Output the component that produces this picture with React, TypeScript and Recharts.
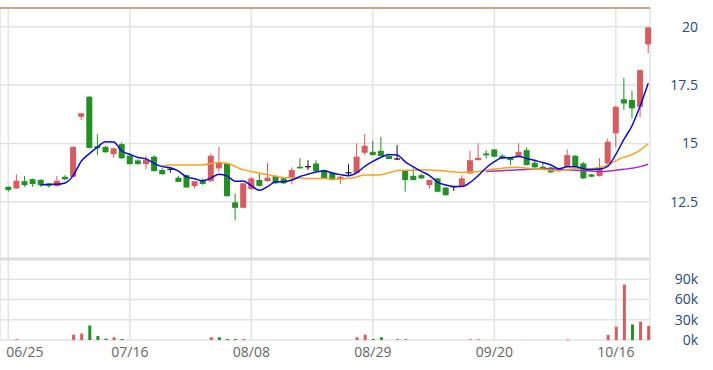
import { ComposedChart, Bar, Line, XAxis, YAxis, CartesianGrid, ReferenceLine, Cell } from 'recharts';

// daily prices (80 sessions)
const opens = [
  13.14, 13.07, 13.38, 13.47, 13.44, 13.27, 13.17, 13.57, 13.57, 16.14,
  17.0, 14.88, 14.85, 14.54, 14.97, 14.47, 14.27, 14.11, 14.43, 13.86,
  13.89, 13.53, 13.64, 13.17, 13.4, 13.38, 13.93, 14.14, 12.47, 12.24,
  13.05, 13.43, 13.38, 13.61, 13.5, 13.54, 14.0, 14.0, 14.14, 13.86,
  13.74, 13.47, 13.74, 13.74, 14.6, 14.64, 14.68, 14.47, 14.33, 13.83,
  13.61, 13.64, 13.21, 13.5, 13.11, 13.14, 13.17, 13.71, 14.28, 14.57,
  14.74, 14.47, 14.38, 14.46, 14.71, 14.17, 14.0, 13.97, 13.89, 14.0,
  14.47, 14.14, 13.67, 13.6, 14.14, 15.43, 16.89, 16.86, 16.57, 19.24,
];
const highs = [
  13.16, 13.67, 13.6, 13.5, 13.46, 13.28, 13.61, 13.64, 14.87, 16.3,
  17.02, 15.39, 14.9, 14.82, 15.04, 14.57, 14.32, 14.47, 14.5, 13.95,
  13.97, 13.61, 13.66, 13.4, 13.5, 14.57, 14.85, 14.16, 12.86, 13.3,
  13.55, 13.71, 14.17, 13.63, 13.52, 13.97, 14.36, 14.28, 14.28, 13.88,
  13.76, 13.6, 14.11, 15.0, 15.4, 15.11, 15.28, 14.5, 14.93, 13.86,
  13.93, 13.7, 13.45, 13.52, 13.12, 13.16, 13.64, 14.68, 15.0, 14.71,
  14.76, 14.55, 14.42, 15.0, 14.83, 14.31, 14.19, 14.0, 13.92, 14.74,
  14.5, 14.2, 13.7, 14.36, 15.21, 16.6, 17.81, 17.25, 18.16, 19.98,
];
const lows = [
  12.93, 13.05, 13.14, 13.14, 13.14, 13.11, 13.15, 13.44, 13.55, 16.0,
  14.78, 14.5, 14.6, 14.4, 14.34, 14.1, 14.1, 13.9, 13.8, 13.66,
  13.74, 13.35, 13.1, 13.07, 13.22, 13.36, 13.78, 12.72, 11.71, 12.22,
  13.0, 13.15, 13.36, 13.27, 13.25, 13.24, 13.92, 13.86, 13.8, 13.48,
  13.41, 13.26, 13.64, 13.72, 14.5, 14.48, 14.45, 14.32, 14.28, 12.93,
  13.4, 13.48, 13.07, 12.9, 12.76, 12.96, 13.15, 13.7, 14.27, 14.36,
  14.42, 14.34, 14.07, 14.44, 14.05, 13.96, 13.9, 13.74, 13.8, 13.98,
  13.98, 13.48, 13.55, 13.58, 14.1, 14.85, 16.43, 16.07, 16.11, 18.86,
];
const closes = [
  13.0, 13.4, 13.21, 13.26, 13.21, 13.17, 13.4, 13.46, 14.85, 16.29,
  14.81, 14.79, 14.62, 14.79, 14.36, 14.11, 14.11, 14.31, 13.81, 13.68,
  13.89, 13.35, 13.11, 13.38, 13.26, 14.47, 14.19, 12.74, 12.24, 13.29,
  13.5, 13.18, 13.53, 13.29, 13.29, 13.86, 13.93, 14.0, 13.81, 13.5,
  13.43, 13.57, 13.74, 14.43, 14.9, 14.5, 14.46, 14.33, 14.33, 13.43,
  13.43, 13.5, 13.43, 12.93, 12.78, 13.14, 13.5, 14.28, 14.38, 14.49,
  14.43, 14.36, 14.28, 14.64, 14.07, 13.97, 13.93, 13.76, 13.83, 14.5,
  14.0, 13.5, 13.57, 13.93, 15.07, 16.57, 16.71, 16.5, 18.14, 19.97,
];
const volumes = [
  0, 1000, 0, 0, 0, 0, 0, 0, 7800, 9500,
  21500, 6000, 2000, 4000, 1500, 0, 0, 0, 0, 0,
  0, 0, 0, 0, 0, 4000, 4000, 1500, 1500, 1500,
  0, 0, 0, 0, 0, 0, 0, 0, 0, 0,
  0, 0, 0, 4000, 7800, 1500, 4000, 0, 1000, 1000,
  0, 0, 0, 0, 0, 0, 0, 1000, 1000, 0,
  0, 0, 0, 0, 0, 0, 0, 0, 0, 1000,
  0, 0, 0, 0, 7400, 19700, 82000, 23000, 27000, 21000,
];

const dateTicks = [0, 15, 30, 45, 60, 75];
const dateLabels = ['06/25', '07/16', '08/08', '08/29', '09/20', '10/16'];
const priceTicks = [12.5, 15, 17.5, 20];
const volumeTicks = [0, 30000, 60000, 90000];
const priceTop = 20.8;

const RED = '#d65c5f';
const GREEN = '#248f24';
const FONT = '"Open Sans", sans-serif';

function movingAverage(n: number) {
  return closes.map((_, i) => {
    if (i < n - 1) return null;
    const win = closes.slice(i - n + 1, i + 1);
    return win.reduce((a, b) => a + b, 0) / n;
  });
}

const ma5 = movingAverage(5);
const ma20 = movingAverage(20);
const ma60 = movingAverage(60);

const data = closes.map((close, i) => ({
  i,
  open: opens[i],
  high: highs[i],
  low: lows[i],
  close,
  volume: volumes[i],
  up: i === 0 ? close >= opens[0] : close > closes[i - 1],
  ma5: ma5[i],
  ma20: ma20[i],
  ma60: ma60[i],
}));

function Candle(props: any) {
  const { x, y, width, height, payload } = props;
  const { open, close, high, low } = payload;
  const cx = x + width / 2;
  const k = high > low ? height / (high - low) : 0;
  const yOf = (p: number) => y + (high - p) * k;
  const color = close > open ? RED : close < open ? GREEN : '#111';
  const top = yOf(Math.max(open, close));
  const bottom = yOf(Math.min(open, close));
  return (
    <g>
      <line x1={cx} x2={cx} y1={y} y2={y + height} stroke={color} strokeWidth={1} />
      {close === open ? (
        <line x1={x} x2={x + width} y1={top} y2={top} stroke={color} strokeWidth={1.2} />
      ) : (
        <rect x={x} y={top} width={width} height={Math.max(bottom - top, 1)} fill={color} />
      )}
    </g>
  );
}

function DateTick(props: any) {
  const { x, y, payload } = props;
  const idx = dateTicks.indexOf(payload.value);
  const first = idx === 0;
  return (
    <text
      x={first ? x - 2 : x}
      y={y}
      dy={9}
      textAnchor={first ? 'start' : 'middle'}
      fill="#666"
      fontSize={14}
      fontFamily={FONT}
    >
      {dateLabels[idx]}
    </text>
  );
}

const axisTick = { textAnchor: 'end', dx: 40, fill: '#2c4a7c', fontSize: 14, fontFamily: FONT };
const xDomain = [-1.03, 79.22];

export default function App() {
  return (
    <div style={{ position: 'absolute', left: 0, top: 0, width: 713, height: 370, background: '#fff' }}>
      <ComposedChart width={713} height={258} data={data} margin={{ top: 8, right: 0, bottom: 0, left: 0 }}>
        <CartesianGrid stroke="#e3e3e3" strokeWidth={1.5} />
        <XAxis dataKey="i" type="number" domain={xDomain} ticks={dateTicks} interval={0} hide />
        <YAxis
          orientation="right"
          domain={[10.09, priceTop]}
          ticks={priceTicks}
          interval={0}
          allowDataOverflow
          axisLine={false}
          tickLine={false}
          width={63}
          tick={axisTick}
        />
        <ReferenceLine y={priceTop} stroke="#b39672" strokeWidth={1.5} />
        <Bar dataKey={(d: any) => [d.low, d.high]} barSize={6} shape={<Candle />} isAnimationActive={false} />
        <Line type="monotone" dataKey="ma60" stroke="#9b32c8" strokeWidth={1.5} dot={false} activeDot={false} isAnimationActive={false} />
        <Line type="monotone" dataKey="ma20" stroke="#f2a424" strokeWidth={1.5} dot={false} activeDot={false} isAnimationActive={false} />
        <Line type="monotone" dataKey="ma5" stroke="#0a0ad0" strokeWidth={1.5} dot={false} activeDot={false} isAnimationActive={false} />
      </ComposedChart>
      <ComposedChart width={713} height={112} data={data} margin={{ top: 1, right: 0, bottom: 0, left: 0 }}>
        <CartesianGrid stroke="#e3e3e3" strokeWidth={1.5} />
        <XAxis
          dataKey="i"
          type="number"
          domain={xDomain}
          ticks={dateTicks}
          interval={0}
          axisLine={false}
          tickLine={false}
          height={30}
          tick={<DateTick />}
        />
        <YAxis
          orientation="right"
          domain={[0, 120000]}
          ticks={volumeTicks}
          interval={0}
          axisLine={false}
          tickLine={false}
          width={63}
          tick={axisTick}
          tickFormatter={(v: number) => `${v / 1000}k`}
        />
        <ReferenceLine y={120000} stroke="#dddddd" strokeWidth={3} />
        <Bar dataKey="volume" barSize={3} isAnimationActive={false}>
          {data.map((d) => (
            <Cell key={d.i} fill={d.up ? RED : GREEN} />
          ))}
        </Bar>
      </ComposedChart>
    </div>
  );
}
